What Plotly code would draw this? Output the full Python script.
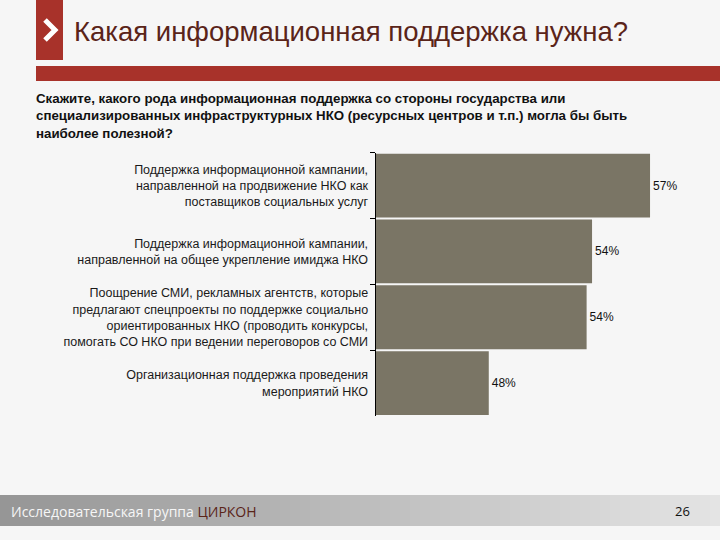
import plotly.graph_objects as go

W, H = 720, 540

categories = [
    "Поддержка информационной кампании,<br>направленной на продвижение НКО как<br>поставщиков социальных услуг",
    "Поддержка информационной кампании,<br>направленной на общее укрепление имиджа НКО",
    "Поощрение СМИ, рекламных агентств, которые<br>предлагают спецпроекты по поддержке социально<br>ориентированных НКО (проводить конкурсы,<br>помогать СО НКО при ведении переговоров со СМИ",
    "Организационная поддержка проведения<br>мероприятий НКО",
]
values = [57.2, 54.0, 53.7, 48.3]

title_text = "Какая информационная поддержка нужна?"
question_text = ("Скажите, какого рода информационная поддержка со стороны государства или<br>"
                 "специализированных инфраструктурных НКО (ресурсных центров и т.п.) могла бы быть<br>"
                 "наиболее полезной?")
footer_text = "Исследовательская группа <span style='color:#5a2419'>ЦИРКОН</span>"
page_number = "26"


def px(x):
    return x / W


def py(y):
    return 1 - y / H


fig = go.Figure()
fig.add_trace(go.Bar(
    y=categories,
    x=values,
    orientation="h",
    marker=dict(color="#7a7565", line=dict(width=0)),
    texttemplate="%{x:.0f}%",
    textposition="outside",
    textfont=dict(family="Liberation Sans, Arial", size=12, color="#111111"),
    cliponaxis=False,
    hoverinfo="skip",
))

shapes = []
# red square with chevron
shapes.append(dict(type="rect", xref="paper", yref="paper",
                   x0=px(36), x1=px(63), y0=py(60), y1=py(0),
                   fillcolor="#a8322a", line=dict(width=0), layer="below"))
shapes.append(dict(type="path", xref="paper", yref="paper",
                   path=f"M {px(45)},{py(20)} L {px(55)},{py(30)} L {px(45)},{py(40)}",
                   line=dict(color="white", width=5)))
# red band
shapes.append(dict(type="rect", xref="paper", yref="paper",
                   x0=px(36), x1=px(720), y0=py(81), y1=py(66),
                   fillcolor="#a8322a", line=dict(width=0), layer="below"))
# footer gradient band
n = 72
c0 = (150, 150, 150)
c1 = (228, 228, 228)
for i in range(n):
    t = i / (n - 1)
    c = tuple(int(c0[k] + (c1[k] - c0[k]) * t) for k in range(3))
    shapes.append(dict(type="rect", xref="paper", yref="paper",
                       x0=px(i * W / n), x1=px((i + 1) * W / n + 0.5),
                       y0=py(526), y1=py(495),
                       fillcolor=f"rgb{c}", line=dict(width=0), layer="below"))

annotations = [
    dict(text=title_text, xref="paper", yref="paper", x=px(72), y=py(32),
         xanchor="left", yanchor="middle", showarrow=False,
         font=dict(family="Liberation Sans, Arial", size=27.5, color="#5a2419")),
    dict(text="<b>" + question_text + "</b>", xref="paper", yref="paper",
         x=px(34), y=py(89), xanchor="left", yanchor="top", align="left",
         showarrow=False,
         font=dict(family="Liberation Sans Narrow, Liberation Sans, Arial", size=13.3, color="#111111")),
    dict(text=footer_text, xref="paper", yref="paper", x=px(9), y=py(511),
         xanchor="left", yanchor="middle", showarrow=False,
         font=dict(family="Open Sans, Noto Sans", size=14, color="#f6f6f6")),
    dict(text=page_number, xref="paper", yref="paper", x=px(692), y=py(511),
         xanchor="right", yanchor="middle", showarrow=False,
         font=dict(family="Open Sans, Noto Sans", size=13, color="#111111")),
]

x_min = 42.06
scale = 18.12
x_max = x_min + (W - 375.7) / scale

fig.update_layout(
    width=W, height=H,
    margin=dict(l=0, r=0, t=0, b=0),
    paper_bgcolor="#f6f6f6",
    plot_bgcolor="rgba(0,0,0,0)",
    showlegend=False,
    bargap=0.03,
    shapes=shapes,
    annotations=annotations,
    xaxis=dict(domain=[375.7 / W, 1.0], range=[x_min, x_max], visible=False, fixedrange=True),
    yaxis=dict(domain=[py(416), py(152.7)], autorange="reversed", type="category",
               showline=True, linecolor="#000000", linewidth=1.2,
               ticks="outside", ticklen=5, tickcolor="#000000", tickwidth=1.2,
               tickson="boundaries", showgrid=False, automargin=False,
               ticklabelstandoff=4,
               tickfont=dict(family="Liberation Sans, Arial", size=12.5, color="#1a1a1a"),
               fixedrange=True),
)

fig.write_html("out.html",
               config={"displayModeBar": False},
               post_script="document.body.style.margin='0';document.body.style.overflow='hidden';")
